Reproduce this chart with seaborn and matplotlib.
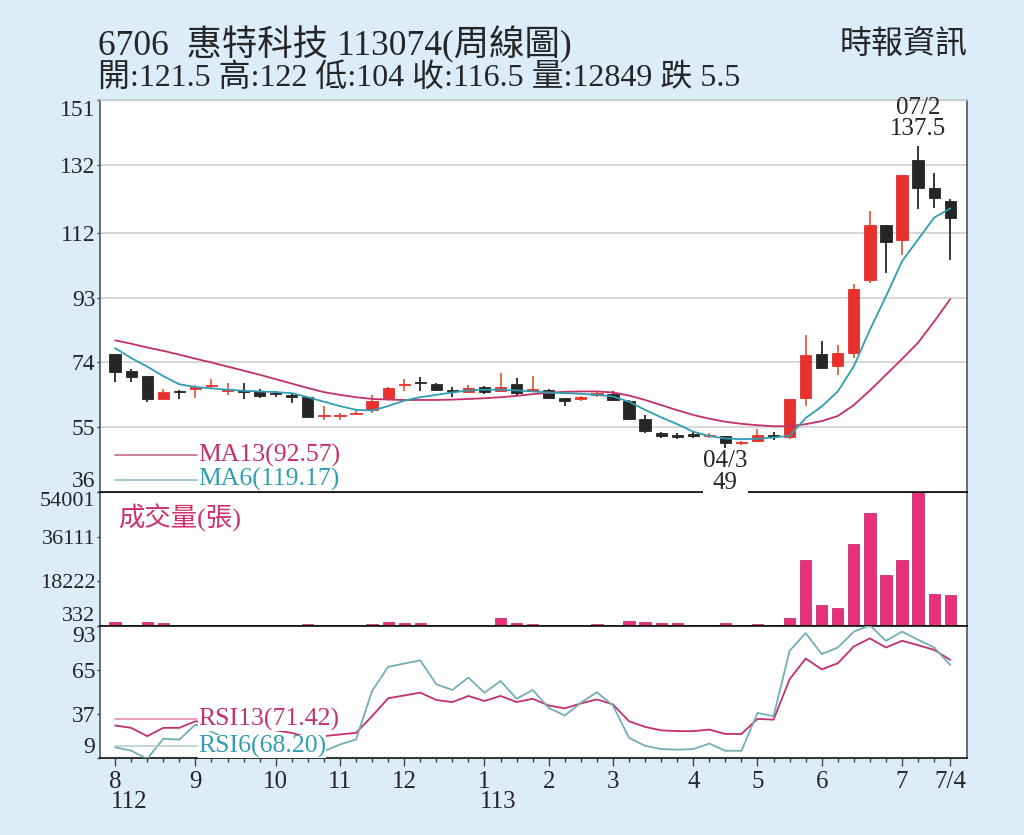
import numpy as np
import matplotlib
matplotlib.use('Agg')
import matplotlib.pyplot as plt
import seaborn as sns

# weekly data, 112/08 .. 113/07/04
weeks = np.arange(53)
opens = [76.5, 71.4, 69.9, 63.2, 65.7, 66.3, 67.0, 65.7, 65.6, 65.7, 64.9, 64.3, 63.8,
         58.2, 58.3, 58.8, 60.1, 63.5, 67.4, 68.2, 67.6, 65.8, 65.2, 66.7, 65.5, 67.6,
         65.7, 66.0, 63.6, 63.4, 64.6, 64.7, 62.7, 57.3, 53.4, 52.3, 52.6, 52.4, 52.3,
         50.4, 51.1, 52.6, 52.2, 63.6, 76.5, 73.1, 76.8, 98.1, 114.4, 109.9, 133.4, 125.3, 121.5]
highs = [76.6, 72.0, 70.1, 66.2, 66.0, 67.4, 69.1, 67.9, 67.9, 66.2, 65.7, 65.0, 64.0,
         61.3, 59.3, 60.1, 64.5, 66.9, 69.1, 69.6, 67.9, 66.9, 67.4, 67.1, 70.9, 69.4,
         69.9, 66.2, 63.6, 64.2, 65.5, 65.7, 63.0, 58.6, 53.7, 53.2, 53.7, 53.2, 52.3,
         51.1, 54.5, 53.7, 63.3, 82.2, 80.4, 79.2, 96.9, 118.4, 114.4, 128.9, 137.5, 129.5, 122.0]
lows = [68.2, 68.4, 62.5, 63.2, 63.4, 63.5, 66.2, 64.5, 63.2, 63.7, 64.0, 62.2, 58.1,
        57.1, 57.0, 58.6, 59.1, 63.0, 65.5, 65.5, 65.5, 64.0, 65.0, 64.8, 65.5, 64.5,
        65.5, 63.5, 61.3, 62.8, 64.0, 62.8, 57.3, 53.4, 51.8, 51.5, 51.8, 51.7, 49.0,
        49.8, 50.8, 51.3, 51.5, 61.3, 72.4, 70.4, 75.3, 97.4, 100.3, 105.4, 118.9, 119.3, 104.0]
closes = [71.2, 69.7, 63.2, 65.4, 65.2, 66.8, 67.3, 65.9, 65.2, 64.3, 64.7, 64.0, 58.1,
          58.4, 58.5, 59.0, 62.7, 66.5, 67.6, 68.0, 66.0, 65.6, 66.5, 65.2, 66.7, 65.0,
          65.9, 63.7, 62.7, 63.6, 64.8, 63.0, 57.3, 53.9, 52.4, 52.2, 52.5, 52.5, 50.3,
          50.5, 52.7, 52.4, 63.3, 76.1, 72.4, 76.8, 95.6, 114.4, 109.3, 128.9, 125.3, 122.3, 116.5]
ma13 = [80.5, 79.5, 78.4, 77.4, 76.3, 75.1, 74.0, 72.8, 71.6, 70.4, 69.1, 67.8, 66.5,
        65.3, 64.5, 63.8, 63.3, 63.1, 63.0, 63.0, 63.0, 63.1, 63.3, 63.5, 63.8, 64.2,
        64.7, 65.1, 65.4, 65.5, 65.5, 65.2, 64.3, 63.0, 61.5, 60.0, 58.6, 57.5, 56.6,
        56.0, 55.6, 55.3, 55.3, 55.9, 56.8, 58.3, 61.5, 65.8, 70.4, 75.0, 79.8, 86.0, 92.57]
ma6 = [78.2, 75.3, 72.8, 70.0, 67.6, 66.8, 66.4, 66.0, 65.7, 65.5, 65.3, 65.0, 63.8,
       62.5, 61.2, 60.1, 59.9, 61.2, 62.8, 63.8, 64.5, 65.2, 65.8, 66.0, 66.0, 65.8,
       65.5, 65.2, 65.0, 64.8, 64.5, 64.0, 62.5, 60.1, 57.9, 55.9, 53.7, 52.4, 51.7,
       51.5, 51.6, 52.0, 52.5, 57.7, 61.1, 65.5, 72.9, 83.6, 93.4, 103.7, 110.1, 116.5, 119.17]
volume = [2070, 470, 1800, 1530, 730, 730, 730, 730, 600, 400, 400, 400, 1000,
          730, 600, 600, 1270, 1930, 1530, 1530, 730, 400, 860, 450, 3540, 1400,
          1130, 600, 400, 400, 1130, 730, 2470, 1800, 1400, 1400, 730, 730, 1400,
          600, 1000, 600, 3400, 26770, 8740, 7670, 33300, 45590, 20760, 26900, 56000, 13270, 12849]
rsi13 = [29.7, 28.2, 22.9, 28.2, 28.2, 32.4, 30.8, 29.2, 28.3, 27.5, 26.6, 25.0, 22.0,
         22.9, 24.0, 25.0, 35.6, 47.0, 48.8, 50.6, 45.9, 44.6, 48.5, 45.3, 48.5, 44.6,
         46.7, 42.4, 40.6, 43.7, 46.3, 43.1, 32.4, 28.8, 26.6, 26.1, 26.1, 27.1, 24.3,
         24.3, 33.9, 33.4, 59.1, 72.3, 65.4, 69.3, 80.0, 85.1, 79.3, 83.6, 80.8, 77.8, 71.42]
rsi6 = [15.8, 13.7, 8.5, 21.3, 20.7, 30.3, 25.8, 20.8, 19.1, 18.2, 16.6, 15.7, 11.5,
        13.3, 17.6, 20.8, 51.6, 67.0, 69.1, 71.2, 55.9, 52.3, 60.2, 50.5, 58.0, 46.7,
        52.3, 40.9, 36.0, 44.1, 50.9, 42.4, 21.8, 16.8, 14.7, 14.3, 14.7, 18.2, 13.6,
        13.6, 37.7, 35.6, 77.2, 88.5, 75.1, 79.3, 89.4, 93.4, 83.6, 89.4, 84.3, 79.3, 68.2]

price_ticks = [36, 55, 74, 93, 112, 132, 151]
vol_ticks = [332, 18222, 36111, 54001]
rsi_ticks = [9, 37, 65, 93]
month_pos = [0, 5, 10, 14, 18, 23, 27, 31, 36, 40, 44, 49, 52]
month_labels = ['8', '9', '10', '11', '12', '1', '2', '3', '4', '5', '6', '7', '7/4']

opens, highs, lows, closes = map(np.array, (opens, highs, lows, closes))

sns.set_theme(style='white')
plt.rcParams['font.family'] = ['Liberation Serif', 'Noto Sans CJK TC']
plt.rcParams['axes.unicode_minus'] = False

bg = '#dcedfa'
red = '#e8312c'
blk = '#262626'
c13 = '#c3306a'
c6 = '#2f9db2'

fig = plt.figure(figsize=(10.24, 8.35), dpi=100, facecolor=bg)
L, W = 0.0972, 0.8472
ax1 = fig.add_axes([L, 0.4108, W, 0.4694])
ax2 = fig.add_axes([L, 0.2503, W, 0.1605], sharex=ax1)
ax3 = fig.add_axes([L, 0.0922, W, 0.1581], sharex=ax1)
ax1.set_zorder(3)

# ---- candles + MA
up = closes > opens
body_col = np.where(up, red, blk)
wick_col = np.where(up, '#e0603c', blk)
ax1.vlines(weeks, lows, highs, colors=wick_col, linewidth=1.3, zorder=2)
ax1.bar(weeks, np.maximum(np.abs(closes - opens), 0.4), bottom=np.minimum(opens, closes),
        width=0.7, color=body_col, edgecolor=body_col, linewidth=0.6, zorder=3)
sns.lineplot(x=weeks, y=ma13, ax=ax1, color=c13, linewidth=1.3, zorder=4)
sns.lineplot(x=weeks, y=ma6, ax=ax1, color=c6, linewidth=1.3, zorder=4)
ax1.set_ylim(36, 151)
ax1.set_yticks(price_ticks)
ax1.set_yticklabels([str(t) for t in price_ticks])
ax1.grid(axis='y', color='#cfcfcf', linewidth=1.2)

ax1.annotate('07/2\n137.5', xy=(50, highs[50]), xytext=(0, 4), textcoords='offset points',
             ha='center', va='bottom', fontsize=18, linespacing=0.95, annotation_clip=False)
ax1.annotate('04/3\n49', xy=(38, lows[38]), xytext=(0, -2), textcoords='offset points',
             ha='center', va='top', fontsize=18, linespacing=0.95, annotation_clip=False,
             bbox=dict(facecolor='white', edgecolor='none', pad=0), zorder=6)


def legend_entry(ax, y, seg_color, text, text_color):
    ax.plot([0.018, 0.1124], [y, y], transform=ax.transAxes, color=seg_color,
            linewidth=1.2, zorder=5)
    ax.text(0.1135, y, text, transform=ax.transAxes, color=text_color, fontsize=18.5,
            va='center', ha='left', zorder=6,
            bbox=dict(facecolor='white', edgecolor='none', pad=0))


legend_entry(ax1, 0.094, '#c86a8c', 'MA13(92.57)', c13)
legend_entry(ax1, 0.031, '#8fbfc6', 'MA6(119.17)', c6)

# ---- volume
sns.barplot(x=weeks, y=volume, native_scale=True, ax=ax2, color='#e8307a',
            saturation=1, width=0.7, errorbar=None, edgecolor='#c02060', linewidth=0.5)
ax2.set_ylim(332, 54001)
ax2.set_yticks(vol_ticks)
ax2.set_yticklabels([str(t) for t in vol_ticks])
ax2.set_ylabel('')
ax2.text(0.021, 0.81, '成交量(張)', transform=ax2.transAxes, color='#d0306a',
         fontsize=19, va='center', ha='left')

# ---- RSI
sns.lineplot(x=weeks, y=rsi13, ax=ax3, color=c13, linewidth=1.3, zorder=3)
sns.lineplot(x=weeks, y=rsi6, ax=ax3, color='#73aeb8', linewidth=1.3, zorder=3)
ax3.set_ylim(9, 93)
ax3.set_yticks(rsi_ticks)
ax3.set_yticklabels([str(t) for t in rsi_ticks])
legend_entry(ax3, 0.292, '#e58fab', 'RSI13(71.42)', c13)
legend_entry(ax3, 0.088, '#b9cdd1', 'RSI6(68.20)', c6)

ax3.set_xlim(-0.97, 53.05)
ax3.set_xticks(month_pos)
ax3.set_xticklabels(month_labels)
ax3.set_xticks(weeks, minor=True)
ax3.tick_params(axis='x', which='major', direction='out', length=6, width=1,
                labelsize=18, pad=3, bottom=True, color='#444')
ax3.tick_params(axis='x', which='minor', direction='out', length=3, width=1,
                bottom=True, color='#444')
for yr_pos, yr in [(0, '112'), (23, '113')]:
    ax3.annotate(yr, xy=(yr_pos, 0), xycoords=('data', 'axes fraction'),
                 xytext=(-3, -24), textcoords='offset points', ha='left', va='top',
                 fontsize=18, annotation_clip=False)

for ax in (ax1, ax2):
    ax.tick_params(axis='x', which='both', bottom=False, labelbottom=False)

for ax, fs in ((ax1, 17), (ax2, 16), (ax3, 17)):
    ax.set_facecolor('white')
    ax.tick_params(axis='y', direction='out', length=2, width=1, pad=1,
                   labelsize=fs, left=True, color='#444')
    for s in ax.spines.values():
        s.set_visible(True)
        s.set_color('#555555')
        s.set_linewidth(1.2)
    ax.spines['top'].set_color('#111111')
    ax.spines['bottom'].set_color('#111111')
ax1.spines['top'].set_color('#c8c8c8')

# shift edge tick labels inward like the original
def nudge(ax):
    labs = ax.get_yticklabels()
    labs[0].set_va('bottom')
    labs[-1].set_va('top')

nudge(ax1)
nudge(ax2)
nudge(ax3)

fig.text(0.096, 0.947, '6706  惠特科技 113074(周線圖)', fontsize=25.5, va='center', ha='left')
fig.text(0.096, 0.906, '開:121.5 高:122 低:104 收:116.5 量:12849 跌 5.5',
         fontsize=23, va='center', ha='left')
fig.text(0.945, 0.946, '時報資訊', fontsize=23, va='center', ha='right')

fig.savefig('out.png', dpi=100, facecolor=bg)
